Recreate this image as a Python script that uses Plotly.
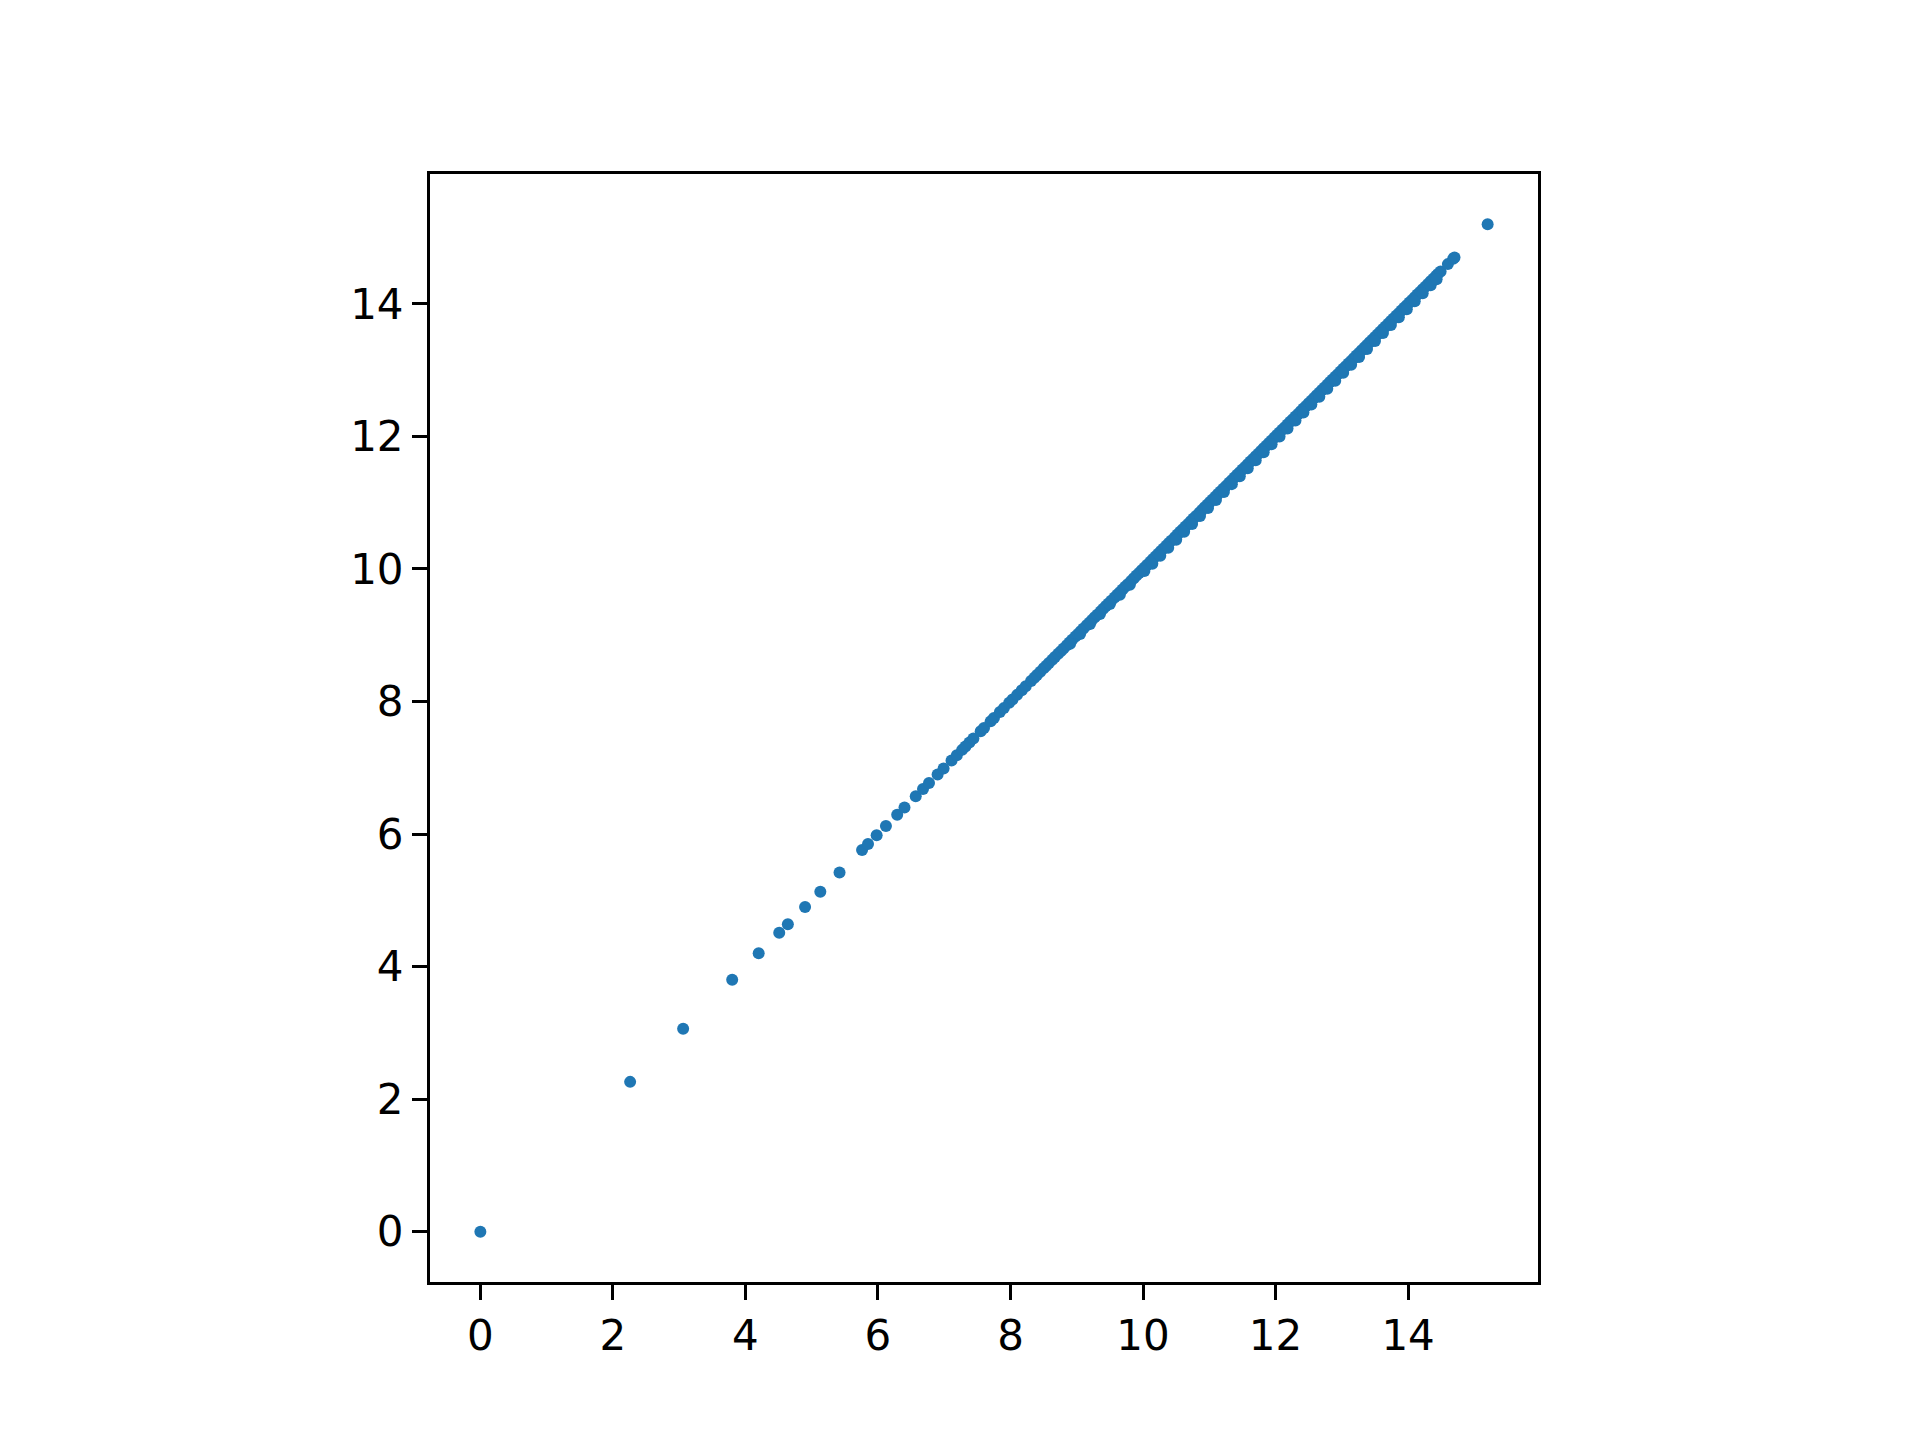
import plotly.graph_objects as go

# sparse points, lying on the diagonal (x == y)
sparse_vals = [0.0, 2.26, 3.06, 3.80, 4.20, 4.51, 4.64, 4.90, 5.13, 5.42,
               5.76, 5.85, 5.98, 6.12, 6.29, 6.40, 6.57, 6.68, 6.77, 6.90,
               6.99, 7.11, 7.19, 7.27, 7.32, 7.38, 7.44, 7.55, 7.60, 7.70,
               7.75, 7.84, 7.90, 7.98, 8.03, 8.10, 8.17, 8.23]

# dense part of the diagonal
dense_vals = [8.31, 8.36, 8.40, 8.45, 8.50, 8.54, 8.58, 8.63, 8.67, 8.72,
              8.76, 8.80, 8.85, 8.89, 8.93, 8.98, 9.02, 9.06, 9.10, 9.15,
              9.19, 9.23, 9.27, 9.31, 9.36, 9.40, 9.44, 9.48, 9.52, 9.57,
              9.61, 9.65, 9.69, 9.73, 9.77, 9.82, 9.86, 9.90, 9.94, 9.98,
              10.02, 10.06, 10.11, 10.15, 10.19, 10.23, 10.27, 10.31, 10.35, 10.39,
              10.43, 10.48, 10.52, 10.56, 10.60, 10.64, 10.68, 10.72, 10.76, 10.80,
              10.85, 10.89, 10.93, 10.97, 11.01, 11.05, 11.09, 11.13, 11.17, 11.21,
              11.25, 11.30, 11.34, 11.38, 11.42, 11.46, 11.50, 11.54, 11.58, 11.62,
              11.66, 11.70, 11.74, 11.78, 11.82, 11.86, 11.90, 11.94, 11.98, 12.02,
              12.06, 12.10, 12.14, 12.18, 12.22, 12.26, 12.30, 12.34, 12.38, 12.42,
              12.46, 12.50, 12.54, 12.58, 12.62, 12.66, 12.70, 12.74, 12.78, 12.82,
              12.86, 12.90, 12.94, 12.98, 13.02, 13.06, 13.10, 13.14, 13.18, 13.22,
              13.26, 13.30, 13.34, 13.38, 13.42, 13.46, 13.50, 13.54, 13.58, 13.62,
              13.66, 13.70, 13.74, 13.78, 13.82, 13.86, 13.90, 13.94, 13.98, 14.02,
              14.06, 14.10, 14.14, 14.18, 14.22, 14.26, 14.30, 14.34, 14.38, 14.42,
              14.45, 14.49, 14.60, 14.68, 14.70, 15.20]

# points sitting slightly under the diagonal (thicker band)
below_x = [8.90, 9.05, 9.20, 9.35, 9.50, 9.65, 9.80,
           10.02, 10.14, 10.26, 10.38, 10.50, 10.62, 10.74, 10.86, 10.98, 11.10,
           11.22, 11.34, 11.46, 11.58, 11.70, 11.82, 11.94, 12.06, 12.18, 12.30,
           12.42, 12.54, 12.66, 12.78, 12.90, 13.02, 13.14, 13.26, 13.38, 13.50,
           13.62, 13.74, 13.86, 13.98, 14.10, 14.22, 14.34, 14.43]
below_y = [8.87, 9.02, 9.17, 9.32, 9.47, 9.61, 9.76,
           9.97, 10.08, 10.20, 10.32, 10.44, 10.56, 10.68, 10.80, 10.92, 11.04,
           11.16, 11.28, 11.40, 11.52, 11.64, 11.76, 11.88, 12.00, 12.12, 12.24,
           12.36, 12.48, 12.60, 12.72, 12.84, 12.96, 13.08, 13.20, 13.32, 13.44,
           13.56, 13.68, 13.80, 13.92, 14.04, 14.16, 14.28, 14.37]

xs = sparse_vals + dense_vals + below_x
ys = sparse_vals + dense_vals + below_y

fig = go.Figure()
fig.add_trace(go.Scatter(
    x=xs, y=ys, mode='markers',
    marker=dict(size=12, color='#1f77b4', line=dict(width=0)),
    showlegend=False,
))

axis_style = dict(
    range=[-0.76, 15.96],
    tickvals=[0, 2, 4, 6, 8, 10, 12, 14],
    showgrid=False, zeroline=False,
    showline=True, mirror=True, linecolor='black', linewidth=3,
    ticks='outside', ticklen=15, tickwidth=3, tickcolor='black',
    tickfont=dict(family='DejaVu Sans', size=42, color='black'),
)

fig.update_layout(
    width=1920, height=1440,
    margin=dict(l=422, r=390, t=166, b=166),
    paper_bgcolor='white', plot_bgcolor='white',
    xaxis=axis_style, yaxis=axis_style,
)

fig.write_html("out.html")
